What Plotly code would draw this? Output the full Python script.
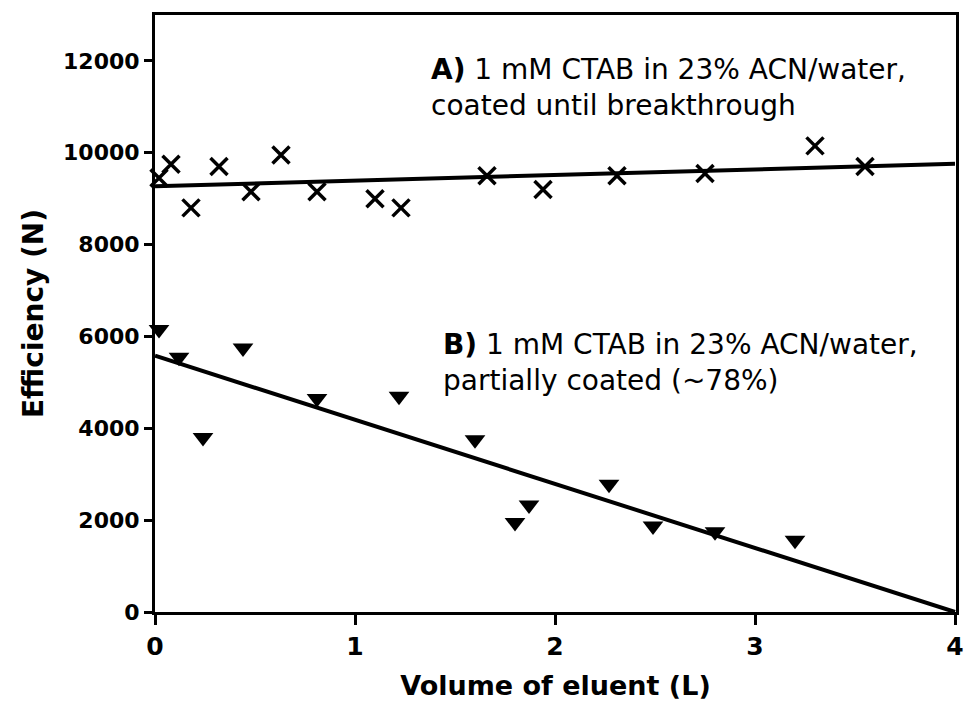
import plotly.graph_objects as go

# Series A: 1 mM CTAB in 23% ACN/water, coated until breakthrough
a_volume = [0.02, 0.08, 0.18, 0.32, 0.48, 0.63, 0.81, 1.10, 1.23, 1.66, 1.94, 2.31, 2.75, 3.30, 3.55]
a_efficiency = [9450, 9750, 8800, 9700, 9150, 9950, 9150, 9000, 8800, 9500, 9200, 9500, 9550, 10150, 9700]
a_fit_volume = [0.0, 4.0]
a_fit_efficiency = [9270, 9760]

# Series B: 1 mM CTAB in 23% ACN/water, partially coated (~78%)
b_volume = [0.02, 0.12, 0.24, 0.44, 0.81, 1.22, 1.60, 1.80, 1.87, 2.27, 2.49, 2.80, 3.20]
b_efficiency = [6150, 5550, 3800, 5750, 4650, 4700, 3750, 1950, 2330, 2780, 1870, 1750, 1560]
b_fit_volume = [0.0, 4.0]
b_fit_efficiency = [5580, 0]

x_ticks = [0, 1, 2, 3, 4]
y_ticks = [0, 2000, 4000, 6000, 8000, 10000, 12000]

FONT = "DejaVu Sans"

fig = go.Figure()
fig.add_trace(go.Scatter(x=a_fit_volume, y=a_fit_efficiency, mode="lines",
                         line=dict(color="black", width=4), showlegend=False, cliponaxis=False))
fig.add_trace(go.Scatter(x=b_fit_volume, y=b_fit_efficiency, mode="lines",
                         line=dict(color="black", width=4), showlegend=False, cliponaxis=False))
fig.add_trace(go.Scatter(x=a_volume, y=a_efficiency, mode="markers",
                         marker=dict(symbol="x-thin", size=17, color="black",
                                     line=dict(color="black", width=3.5)),
                         showlegend=False, cliponaxis=False))
fig.add_trace(go.Scatter(x=b_volume, y=b_efficiency, mode="markers",
                         marker=dict(symbol="triangle-down", size=18, color="black"),
                         showlegend=False, cliponaxis=False))

fig.add_annotation(x=1.37, y=11420, xref="x", yref="y", xanchor="left", yanchor="middle",
                   align="left", showarrow=False,
                   text="<b>A)</b> 1 mM CTAB in 23% ACN/water,<br>coated until breakthrough",
                   font=dict(family=FONT, size=28, color="black"))
fig.add_annotation(x=1.43, y=5433, xref="x", yref="y", xanchor="left", yanchor="middle",
                   align="left", showarrow=False,
                   text="<b>B)</b> 1 mM CTAB in 23% ACN/water,<br>partially coated (~78%)",
                   font=dict(family=FONT, size=28, color="black"))

fig.update_layout(
    width=964, height=701,
    margin=dict(l=155, r=8, t=15, b=89),
    paper_bgcolor="white", plot_bgcolor="white",
    font=dict(family=FONT, color="black"),
    showlegend=False,
)
fig.update_xaxes(range=[0, 4.005], tickvals=x_ticks, ticktext=[str(v) for v in x_ticks],
                 automargin=False, ticklabeloverflow="allow",
                 showgrid=False, zeroline=False, showline=True, linecolor="black", linewidth=3,
                 mirror=True, ticks="outside", ticklen=10, tickwidth=3, tickcolor="black",
                 tickfont=dict(family=FONT, size=25, color="black", weight="bold"),
                 title=dict(text="<b>Volume of eluent (L)</b>", font=dict(family=FONT, size=27, color="black"),
                            standoff=18))
fig.update_yaxes(range=[0, 13000], tickvals=y_ticks, ticktext=[str(v) for v in y_ticks],
                 automargin=False, ticklabeloverflow="allow",
                 showgrid=False, zeroline=False, showline=True, linecolor="black", linewidth=3,
                 mirror=True, ticks="outside", ticklen=8, tickwidth=3, tickcolor="black",
                 tickfont=dict(family=FONT, size=22, color="black", weight="bold"),
                 title=dict(text="<b>Efficiency (N)</b>", font=dict(family=FONT, size=28, color="black"),
                            standoff=12))

fig.write_html("out.html")
